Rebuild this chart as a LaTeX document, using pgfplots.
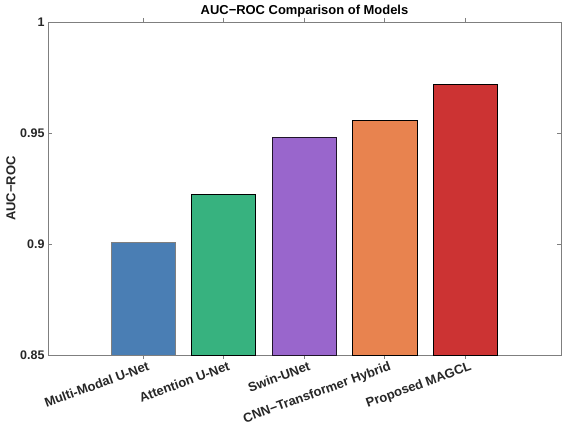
\documentclass[border=0pt]{standalone}
\usepackage{fontspec}
\setmainfont{Liberation Sans}
\usepackage{pgfplots}
\pgfplotsset{compat=1.18}
\definecolor{cB}{HTML}{4A7EB4}
\definecolor{cG}{HTML}{37B27F}
\definecolor{cP}{HTML}{9966CC}
\definecolor{cO}{HTML}{E8834F}
\definecolor{cR}{HTML}{CC3333}
\definecolor{axgray}{HTML}{7F7F7F}
\definecolor{txt}{HTML}{262626}
\begin{document}
\begin{tikzpicture}[x=1bp,y=1bp]
\useasboundingbox (0,0) rectangle (564,432);
\begin{axis}[
  at={(48bp,77bp)}, anchor=south west,
  scale only axis, width=513bp, height=333bp,
  xmin=-0.18, xmax=6.19, ymin=0.85, ymax=1,
  xtick={1,2,3,4,5},
  xticklabels={Multi-Modal U-Net, Attention U-Net, Swin-UNet, CNN−Transformer Hybrid, Proposed MAGCL},
  ytick={0.85,0.9,0.95,1},
  yticklabels={0.85,0.9,0.95,1},
  tick align=inside, major tick length=4bp,
  axis line style={axgray, line width=0.6pt},
  every tick/.style={axgray, line width=0.6pt},
  xticklabel style={rotate=20, anchor=north east, font=\fontsize{13}{15}\selectfont\bfseries, text=txt, xshift=4bp, yshift=-2bp, inner sep=1bp},
  yticklabel style={font=\fontsize{12.5}{14}\selectfont\bfseries, text=txt},
  ylabel={AUC−ROC},
  ylabel style={font=\fontsize{13}{15}\selectfont\bfseries, text=txt, yshift=-2bp},
  title={AUC−ROC Comparison of Models},
  title style={font=\fontsize{13}{15}\selectfont\bfseries, text=black, yshift=-5bp},
  ybar, bar width=0.8, bar shift=0pt,
]
\addplot[fill=cB, draw=axgray, line width=0.6pt] coordinates {(1,0.9008)};
\addplot[fill=cG, draw=black, line width=0.6pt] coordinates {(2,0.9224)};
\addplot[fill=cP, draw=black!80!cP, line width=0.6pt] coordinates {(3,0.9481)};
\addplot[fill=cO, draw=black, line width=0.6pt] coordinates {(4,0.9558)};
\addplot[fill=cR, draw=black, line width=0.6pt] coordinates {(5,0.9719)};
\end{axis}
\end{tikzpicture}
\end{document}
